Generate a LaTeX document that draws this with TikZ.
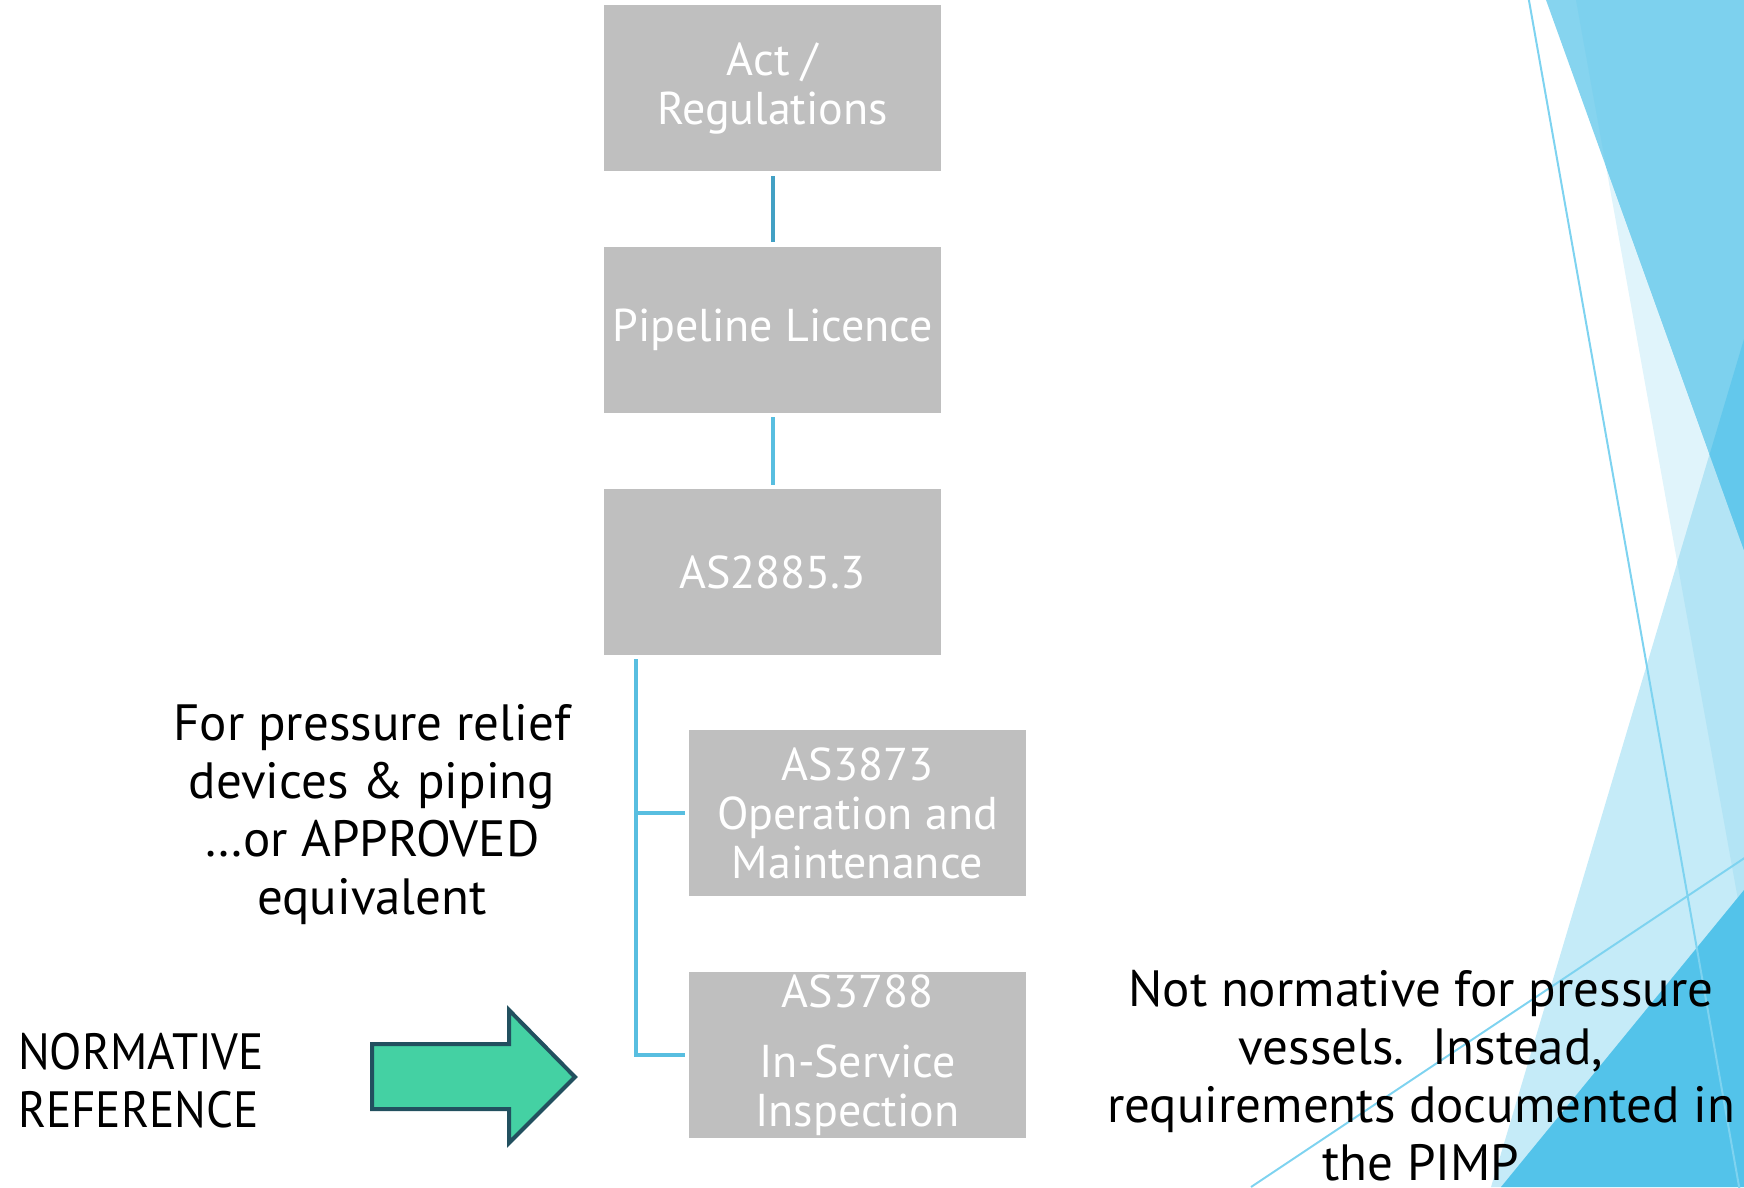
\documentclass[tikz,border=0pt]{standalone}
\usepackage{fontspec}
\setmainfont{PT Sans}
\definecolor{boxgray}{HTML}{BFBFBF}
\definecolor{connA}{HTML}{42A0C4}
\definecolor{connB}{HTML}{58BEE0}
\definecolor{arrowfill}{HTML}{44D1A3}
\definecolor{arrowline}{HTML}{22505F}
\definecolor{tA}{HTML}{86D4EF}
\definecolor{tAB}{HTML}{7DD1EE}
\definecolor{tB}{HTML}{E0F4FB}
\definecolor{tC}{HTML}{C5EBF8}
\definecolor{tBC}{HTML}{B3E4F5}
\definecolor{tABC}{HTML}{63C8EC}
\definecolor{tD}{HTML}{53C3EA}
\definecolor{thinline}{HTML}{7ED3F0}
\begin{document}
\begin{tikzpicture}[x=1pt,y=-1pt,
  boxnode/.style={rectangle, fill=boxgray, minimum width=337pt, minimum height=166pt,
    inner sep=0pt, text=white, align=center, font=\fontsize{46}{49}\selectfont},
  blacktext/.style={inner sep=0pt, text=black, font=\fontsize{51}{58}\selectfont},
  connupper/.style={draw=connA, line width=4pt},
  connlower/.style={draw=connB, line width=4pt},
  bgline/.style={draw=thinline, line width=2pt}]
\useasboundingbox (0,0) rectangle (1744,1187);
% background facets
\begin{scope}
\clip (0,0) rectangle (1744,1187);
\def\triB{(1576,0) -- (1744,0) -- (1744,933) -- cycle}
\def\triA{(1546,0) -- (1744,0) -- (1744,550) -- cycle}
\def\triC{(1491,1187) -- (1744,339) -- (1744,1187) -- cycle}
\def\triD{(1501,1187) -- (1744,890) -- (1744,1187) -- cycle}
\fill[tB] \triB;
\fill[tC] \triC;
\begin{scope}\clip \triB; \fill[tBC] \triC; \end{scope}
\fill[tA] \triA;
\begin{scope}\clip \triA; \fill[tAB] \triB; \clip \triB; \fill[tABC] \triC; \end{scope}
\fill[tD] \triD;
\draw[bgline] (1528,-5) -- (1740,1192);
\draw[bgline] (1251,1187) -- (1749,855);
\end{scope}
% boxes
\node[boxnode] (act) at (772.5,88) {Act /\\Regulations};
\node[boxnode] (lic) at (772.5,330) {Pipeline Licence};
\node[boxnode] (std) at (772.5,572) {AS2885.3};
\node[boxnode] (om) at (857.5,813) {AS3873\\Operation and\\Maintenance};
\node[boxnode] (isi) at (857.5,1055) {AS3788\\[21pt]In-Service\\Inspection};
% connectors
\draw[connupper, shorten <=5pt, shorten >=5pt] (act.south) -- (lic.north);
\draw[connlower, shorten <=4pt, shorten >=4pt] (lic.south) -- (std.north);
\coordinate (trunk) at ([xshift=32pt,yshift=-4pt]std.south west);
\draw[connlower] (trunk) |- ([xshift=-4pt]om.west);
\draw[connlower] (trunk) |- ([xshift=-4pt]isi.west);
% texts
\node[blacktext, align=center] (relief) at (372,815) {For pressure relief\\devices \& piping\\…or APPROVED\\equivalent};
\node[blacktext, align=left, anchor=west] (normref) at (18,1081) {\scalebox{0.925}[1]{NORMATIVE}\\\scalebox{0.925}[1]{REFERENCE}};
\node[blacktext, align=center] (notnorm) at (1421,1076) {Not normative for pressure\\vessels.\ \ Instead,\\requirements documented in\\the PIMP};
% arrow
\draw[fill=arrowfill, draw=arrowline, line width=4pt, line join=miter]
  (372,1044) -- (509,1044) -- (509,1010) -- (575,1077) -- (509,1143) -- (509,1109) -- (372,1109) -- cycle;
\end{tikzpicture}
\end{document}
